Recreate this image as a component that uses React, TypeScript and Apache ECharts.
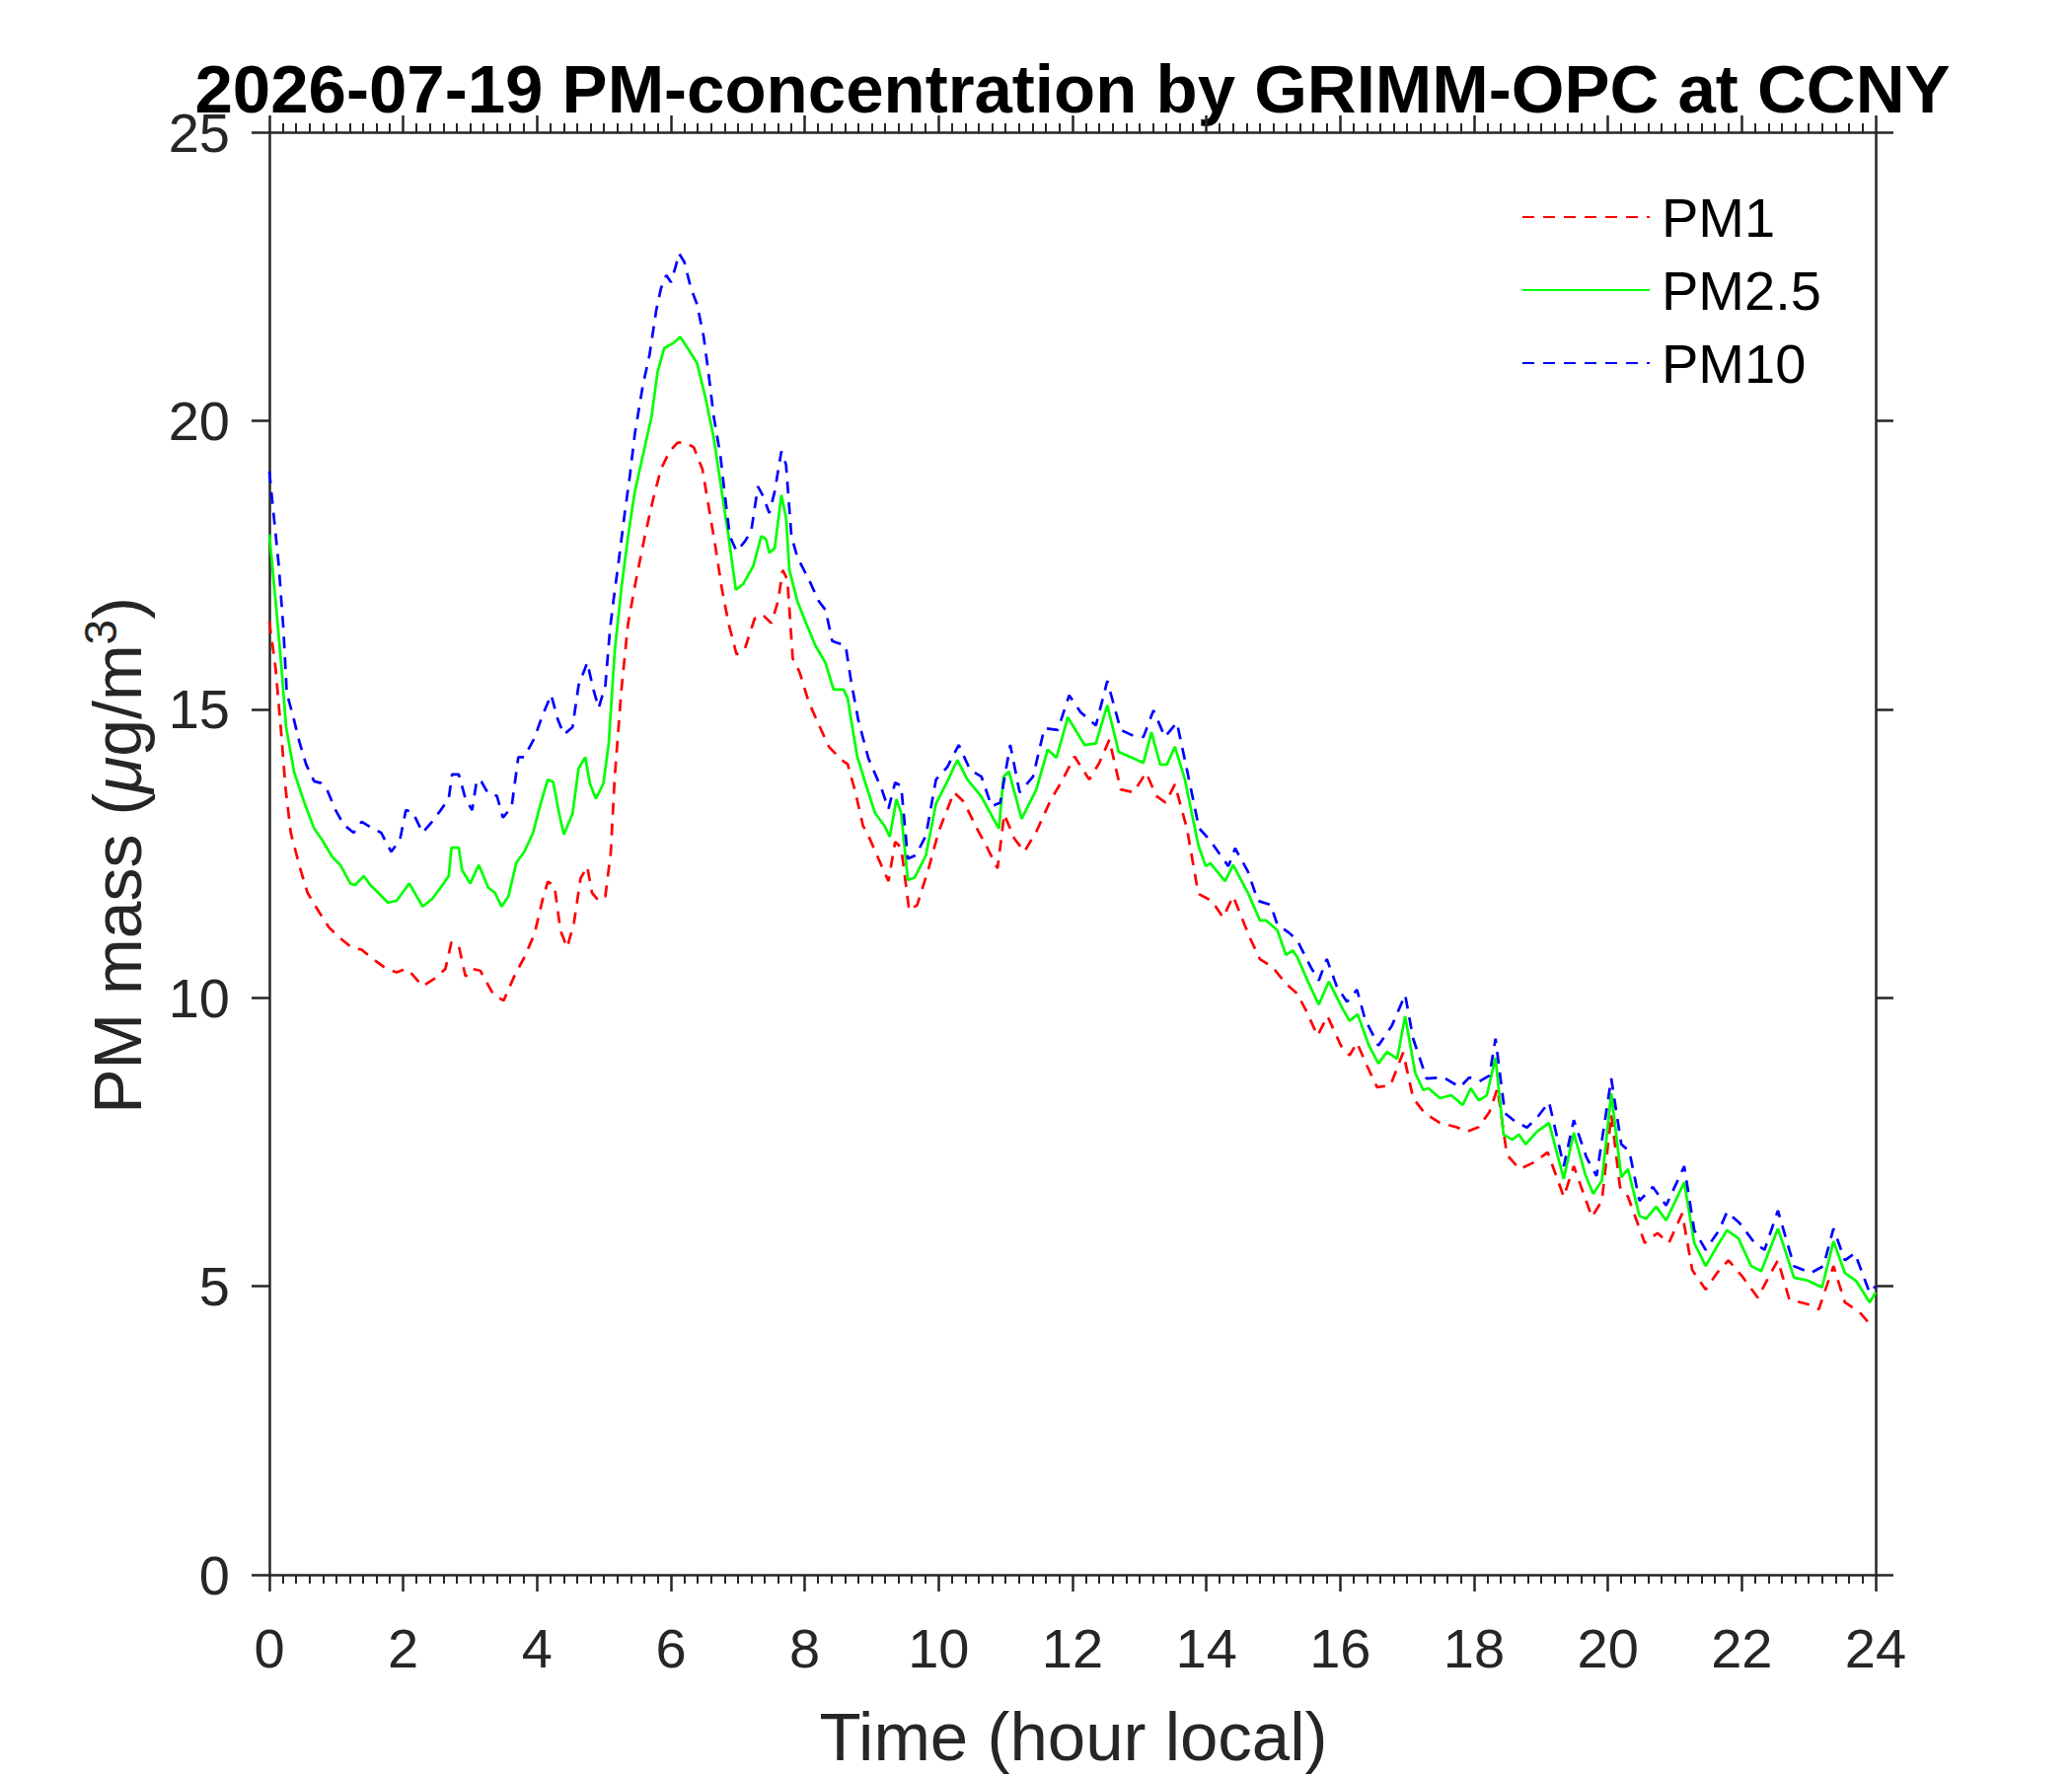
import React, { useEffect, useRef } from "react";
import * as echarts from "echarts";

const titleText = "2026-07-19 PM-concentration by GRIMM-OPC at CCNY";
const xAxisName = "Time (hour local)";
const seriesNames = ["PM1", "PM2.5", "PM10"];
const xTicks = [0, 2, 4, 6, 8, 10, 12, 14, 16, 18, 20, 22, 24];
const yTicks = [0, 5, 10, 15, 20, 25];

// [hour, µg/m³]
const pm25 = [
  [0, 18.03], [0.1, 16.79], [0.18, 15.74], [0.25, 14.69], [0.37, 13.91], [0.52, 13.39], [0.67, 12.93], [0.79, 12.73],
  [0.94, 12.44], [1.06, 12.3], [1.21, 11.98], [1.28, 11.95], [1.41, 12.11], [1.51, 11.95], [1.6, 11.85], [1.77, 11.65],
  [1.9, 11.68], [1.99, 11.82], [2.09, 11.98], [2.17, 11.82], [2.29, 11.58], [2.43, 11.71], [2.58, 11.94], [2.68, 12.11],
  [2.72, 12.6], [2.83, 12.6], [2.88, 12.21], [3.0, 11.98], [3.13, 12.3], [3.27, 11.91], [3.37, 11.82], [3.47, 11.58],
  [3.57, 11.75], [3.69, 12.34], [3.81, 12.53], [3.94, 12.86], [4.06, 13.39], [4.16, 13.78], [4.24, 13.74], [4.33, 13.19],
  [4.4, 12.83], [4.53, 13.19], [4.62, 13.97], [4.72, 14.17], [4.79, 13.71], [4.88, 13.45], [4.99, 13.71], [5.07, 14.4],
  [5.16, 16.0], [5.26, 17.1], [5.36, 18.0], [5.46, 18.77], [5.58, 19.39], [5.71, 20.07], [5.8, 20.84], [5.9, 21.26],
  [6.03, 21.34], [6.14, 21.45], [6.27, 21.22], [6.39, 21.0], [6.52, 20.38], [6.64, 19.7], [6.76, 18.77], [6.86, 18.0],
  [6.97, 17.07], [7.08, 17.17], [7.23, 17.48], [7.35, 18.0], [7.42, 17.95], [7.47, 17.71], [7.55, 17.79], [7.65, 18.71],
  [7.72, 18.32], [7.77, 17.41], [7.89, 16.87], [8.02, 16.49], [8.16, 16.1], [8.31, 15.8], [8.43, 15.34], [8.58, 15.34],
  [8.64, 15.19], [8.78, 14.2], [8.9, 13.74], [9.05, 13.2], [9.19, 12.98], [9.27, 12.79], [9.37, 13.44], [9.44, 13.2],
  [9.54, 12.04], [9.64, 12.08], [9.81, 12.47], [9.96, 13.36], [10.13, 13.75], [10.28, 14.12], [10.43, 13.78], [10.63, 13.5],
  [10.9, 12.93], [10.97, 13.83], [11.05, 13.92], [11.24, 13.1], [11.46, 13.61], [11.63, 14.3], [11.76, 14.16], [11.93, 14.86],
  [12.18, 14.38], [12.35, 14.41], [12.52, 15.07], [12.69, 14.26], [12.89, 14.16], [13.06, 14.07], [13.18, 14.6], [13.31, 14.04],
  [13.41, 14.04], [13.53, 14.35], [13.68, 13.78], [13.88, 12.64], [13.99, 12.28], [14.06, 12.33], [14.28, 12.02], [14.4, 12.3],
  [14.62, 11.82], [14.8, 11.34], [14.89, 11.34], [15.06, 11.17], [15.19, 10.74], [15.29, 10.82], [15.36, 10.7], [15.51, 10.3],
  [15.68, 9.88], [15.83, 10.28], [16.04, 9.8], [16.14, 9.6], [16.26, 9.71], [16.43, 9.17], [16.57, 8.86], [16.7, 9.06],
  [16.85, 8.94], [16.97, 9.68], [17.12, 8.7], [17.24, 8.4], [17.32, 8.43], [17.49, 8.26], [17.66, 8.31], [17.83, 8.14],
  [17.95, 8.43], [18.07, 8.22], [18.19, 8.31], [18.32, 8.96], [18.44, 7.63], [18.57, 7.54], [18.67, 7.63], [18.77, 7.46],
  [18.94, 7.68], [19.12, 7.83], [19.34, 6.86], [19.49, 7.66], [19.66, 6.94], [19.78, 6.6], [19.91, 6.83], [20.05, 8.34],
  [20.2, 6.89], [20.3, 7.03], [20.47, 6.22], [20.57, 6.17], [20.72, 6.38], [20.87, 6.14], [21.14, 6.8], [21.29, 5.75],
  [21.46, 5.35], [21.63, 5.69], [21.78, 5.97], [21.95, 5.83], [22.14, 5.35], [22.29, 5.26], [22.54, 6.0], [22.78, 5.15],
  [22.98, 5.1], [23.2, 4.98], [23.37, 5.78], [23.54, 5.23], [23.71, 5.09], [23.91, 4.72], [24.0, 4.89],
];

const pm10 = [
  [0, 19.12], [0.06, 18.42], [0.14, 17.5], [0.21, 16.39], [0.26, 15.28], [0.35, 14.9], [0.45, 14.43], [0.55, 14.04],
  [0.67, 13.75], [0.77, 13.72], [0.87, 13.58], [0.99, 13.25], [1.11, 13.0], [1.26, 12.86], [1.38, 13.05], [1.55, 12.93],
  [1.67, 12.86], [1.82, 12.53], [1.95, 12.73], [2.04, 13.25], [2.14, 13.22], [2.29, 12.86], [2.43, 13.05], [2.56, 13.25],
  [2.68, 13.45], [2.73, 13.87], [2.83, 13.87], [2.93, 13.45], [3.03, 13.25], [3.1, 13.78], [3.17, 13.74], [3.27, 13.54],
  [3.4, 13.5], [3.49, 13.12], [3.62, 13.31], [3.72, 14.17], [3.81, 14.17], [3.96, 14.5], [4.08, 14.89], [4.21, 15.25],
  [4.31, 14.82], [4.4, 14.56], [4.53, 14.69], [4.62, 15.41], [4.75, 15.81], [4.84, 15.35], [4.92, 15.02], [5.02, 15.41],
  [5.09, 16.39], [5.14, 16.87], [5.21, 17.48], [5.31, 18.4], [5.39, 19.08], [5.46, 19.77], [5.58, 20.61], [5.68, 21.14],
  [5.78, 21.91], [5.85, 22.29], [5.93, 22.52], [6.0, 22.4], [6.07, 22.67], [6.12, 22.9], [6.2, 22.75], [6.3, 22.29],
  [6.39, 22.02], [6.49, 21.45], [6.56, 20.84], [6.64, 20.07], [6.74, 19.39], [6.8, 18.77], [6.88, 18.0], [6.98, 17.74],
  [7.1, 17.9], [7.2, 18.09], [7.3, 18.86], [7.37, 18.71], [7.47, 18.4], [7.55, 18.77], [7.65, 19.47], [7.72, 19.24],
  [7.8, 18.0], [7.89, 17.63], [8.06, 17.25], [8.21, 16.87], [8.31, 16.72], [8.41, 16.18], [8.61, 16.1], [8.69, 15.5],
  [8.8, 14.81], [8.95, 14.15], [9.15, 13.61], [9.25, 13.27], [9.35, 13.73], [9.44, 13.67], [9.54, 12.41], [9.66, 12.47],
  [9.81, 12.81], [9.96, 13.78], [10.13, 14.0], [10.3, 14.38], [10.47, 13.95], [10.64, 13.83], [10.79, 13.32], [10.92, 13.38],
  [11.07, 14.38], [11.21, 13.56], [11.41, 13.83], [11.58, 14.67], [11.78, 14.64], [11.95, 15.24], [12.12, 14.95], [12.35, 14.72],
  [12.52, 15.49], [12.72, 14.64], [12.89, 14.55], [13.06, 14.52], [13.21, 14.98], [13.38, 14.52], [13.56, 14.77], [13.71, 13.95],
  [13.89, 12.94], [14.06, 12.72], [14.21, 12.47], [14.33, 12.28], [14.43, 12.59], [14.62, 12.19], [14.77, 11.68], [14.96, 11.61],
  [15.06, 11.27], [15.23, 11.13], [15.36, 10.99], [15.56, 10.53], [15.68, 10.3], [15.8, 10.67], [15.95, 10.19], [16.1, 9.93],
  [16.25, 10.14], [16.37, 9.63], [16.57, 9.17], [16.77, 9.51], [16.97, 10.05], [17.09, 9.29], [17.29, 8.6], [17.54, 8.62],
  [17.79, 8.45], [17.93, 8.62], [18.08, 8.55], [18.23, 8.65], [18.32, 9.29], [18.46, 8.0], [18.62, 7.85], [18.79, 7.75],
  [18.94, 7.92], [19.12, 8.19], [19.34, 7.08], [19.49, 7.88], [19.68, 7.23], [19.83, 6.91], [20.05, 8.6], [20.2, 7.46],
  [20.32, 7.34], [20.47, 6.48], [20.67, 6.72], [20.87, 6.4], [21.14, 7.08], [21.29, 5.97], [21.46, 5.63], [21.66, 5.97],
  [21.78, 6.29], [21.97, 6.09], [22.19, 5.75], [22.34, 5.63], [22.54, 6.31], [22.78, 5.35], [23.03, 5.23], [23.22, 5.35],
  [23.37, 6.0], [23.54, 5.45], [23.69, 5.57], [23.91, 4.89], [24.0, 5.0],
];

const pm1 = [
  [0, 16.52], [0.09, 15.74], [0.17, 14.69], [0.24, 13.65], [0.32, 12.86], [0.45, 12.28], [0.57, 11.82], [0.74, 11.49],
  [0.89, 11.22], [1.06, 11.03], [1.23, 10.87], [1.38, 10.83], [1.55, 10.67], [1.75, 10.5], [1.9, 10.44], [2.04, 10.5],
  [2.14, 10.4], [2.29, 10.2], [2.48, 10.34], [2.63, 10.5], [2.72, 10.96], [2.83, 10.9], [2.93, 10.37], [3.03, 10.5],
  [3.15, 10.47], [3.35, 10.05], [3.5, 9.95], [3.67, 10.4], [3.81, 10.7], [3.96, 11.1], [4.08, 11.69], [4.16, 12.01],
  [4.26, 11.94], [4.35, 11.16], [4.45, 10.87], [4.55, 11.29], [4.65, 12.07], [4.75, 12.27], [4.82, 11.82], [4.92, 11.68],
  [5.02, 11.76], [5.1, 12.5], [5.16, 13.82], [5.26, 15.34], [5.36, 16.49], [5.48, 17.25], [5.61, 18.0], [5.73, 18.62],
  [5.85, 19.16], [5.98, 19.47], [6.1, 19.62], [6.22, 19.62], [6.34, 19.54], [6.47, 19.16], [6.57, 18.47], [6.67, 17.78],
  [6.76, 17.1], [6.86, 16.49], [6.98, 15.95], [7.1, 16.03], [7.25, 16.57], [7.37, 16.64], [7.5, 16.49], [7.6, 16.87],
  [7.67, 17.41], [7.74, 17.25], [7.82, 15.88], [7.92, 15.65], [8.06, 15.12], [8.21, 14.73], [8.36, 14.35], [8.55, 14.12],
  [8.64, 14.05], [8.75, 13.59], [8.87, 12.98], [8.95, 12.81], [9.1, 12.41], [9.25, 12.02], [9.35, 12.7], [9.44, 12.6],
  [9.56, 11.51], [9.68, 11.61], [9.85, 12.24], [10.0, 12.88], [10.23, 13.56], [10.38, 13.39], [10.55, 12.98], [10.73, 12.59],
  [10.88, 12.24], [10.98, 13.18], [11.13, 12.76], [11.28, 12.53], [11.46, 12.88], [11.68, 13.44], [11.83, 13.73], [12.03, 14.18],
  [12.25, 13.78], [12.4, 14.07], [12.55, 14.47], [12.72, 13.61], [12.91, 13.56], [13.1, 13.9], [13.25, 13.5], [13.39, 13.38],
  [13.53, 13.7], [13.71, 12.93], [13.88, 11.8], [14.08, 11.68], [14.25, 11.39], [14.4, 11.76], [14.57, 11.27], [14.67, 10.99],
  [14.8, 10.67], [14.99, 10.53], [15.19, 10.24], [15.36, 10.07], [15.51, 9.73], [15.66, 9.34], [15.81, 9.68], [16.01, 9.17],
  [16.14, 9.0], [16.25, 9.22], [16.4, 8.82], [16.55, 8.45], [16.75, 8.48], [16.94, 9.05], [17.09, 8.26], [17.26, 8.0],
  [17.49, 7.83], [17.73, 7.76], [17.9, 7.68], [18.07, 7.76], [18.23, 8.02], [18.35, 8.43], [18.49, 7.28], [18.68, 7.03],
  [18.9, 7.15], [19.1, 7.32], [19.34, 6.55], [19.49, 7.08], [19.76, 6.2], [19.91, 6.48], [20.05, 7.98], [20.18, 6.72],
  [20.3, 6.55], [20.55, 5.75], [20.74, 5.92], [20.91, 5.75], [21.11, 6.26], [21.26, 5.28], [21.46, 4.94], [21.63, 5.23],
  [21.8, 5.45], [22.0, 5.18], [22.24, 4.8], [22.41, 5.18], [22.54, 5.45], [22.71, 4.77], [22.98, 4.69], [23.15, 4.6],
  [23.37, 5.35], [23.54, 4.72], [23.76, 4.55], [23.91, 4.35], [24.0, 4.38],
];

const AX = "#262626";
const FONT = "Liberation Sans";

export default function App() {
  const ref = useRef<HTMLDivElement>(null);
  useEffect(() => {
    const chart = echarts.init(ref.current!, null, { renderer: "svg" });
    const xBase = (pos: "bottom" | "top", labels: boolean) => ({
      type: "value",
      min: xTicks[0],
      max: xTicks[xTicks.length - 1],
      interval: xTicks[1] - xTicks[0],
      position: pos,
      axisLine: { show: true, onZero: false, lineStyle: { color: AX, width: 2.5 } },
      axisTick: { show: true, inside: false, length: 17, lineStyle: { color: AX, width: 2.5 } },
      minorTick: { show: true, splitNumber: 10, length: 9, lineStyle: { color: AX, width: 2 } },
      axisLabel: { show: labels, margin: 46, fontSize: 56, color: AX, fontFamily: FONT },
      splitLine: { show: false },
      minorSplitLine: { show: false },
    });
    const yBase = (pos: "left" | "right", labels: boolean) => ({
      type: "value",
      min: yTicks[0],
      max: yTicks[yTicks.length - 1],
      interval: yTicks[1] - yTicks[0],
      position: pos,
      axisLine: { show: true, onZero: false, lineStyle: { color: AX, width: 2.5 } },
      axisTick: { show: true, inside: false, length: 18, lineStyle: { color: AX, width: 2.5 } },
      axisLabel: { show: labels, margin: 40, fontSize: 56, color: AX, fontFamily: FONT },
      splitLine: { show: false },
    });
    const lineSeries = (name: string, data: number[][], color: string, dashed: boolean) => ({
      name,
      type: "line",
      data,
      showSymbol: false,
      symbol: "none",
      xAxisIndex: 0,
      yAxisIndex: 0,
      lineStyle: { color, width: 2.7, type: dashed ? [12, 9] : "solid" },
      itemStyle: { color },
      emphasis: { disabled: true },
    });
    chart.setOption({
      animation: false,
      backgroundColor: "#ffffff",
      grid: { left: 273, top: 134, width: 1628, height: 1462, containLabel: false },
      xAxis: [xBase("bottom", true), xBase("top", false)],
      yAxis: [yBase("left", true), yBase("right", false)],
      legend: {
        orient: "vertical",
        left: 1542,
        top: 190,
        padding: 0,
        itemWidth: 129,
        itemHeight: 20,
        itemGap: 14,
        itemStyle: { opacity: 0 },
        data: seriesNames,
        textStyle: { fontSize: 56, color: "#000", fontFamily: FONT, lineHeight: 60, padding: [0, 0, 0, 7] },
      },
      series: [
        lineSeries(seriesNames[0], pm1, "#ff0000", true),
        lineSeries(seriesNames[1], pm25, "#00ff00", false),
        lineSeries(seriesNames[2], pm10, "#0000ff", true),
      ],
      graphic: [
        {
          type: "text",
          x: 1087,
          y: 90,
          style: {
            text: titleText,
            fill: "#000",
            font: `bold 69px "${FONT}"`,
            textAlign: "center",
            textVerticalAlign: "middle",
          },
        },
        {
          type: "text",
          x: 1088,
          y: 1760,
          style: {
            text: xAxisName,
            fill: AX,
            font: `69px "${FONT}"`,
            textAlign: "center",
            textVerticalAlign: "middle",
          },
        },
        {
          type: "text",
          x: 119,
          y: 867,
          rotation: Math.PI / 2,
          style: {
            text: "{a|PM mass (}{mu|μ}{a|g/m}{sup|3}{a|)}",
            fill: AX,
            textAlign: "center",
            textVerticalAlign: "middle",
            rich: {
              a: { fontSize: 68, fontFamily: FONT, fill: AX, lineHeight: 80 },
              mu: { fontSize: 68, fontFamily: FONT, fontStyle: "italic", fill: AX, lineHeight: 80 },
              sup: { fontSize: 46, fontFamily: FONT, fill: AX, verticalAlign: "top", lineHeight: 46 },
            },
          },
        },
      ],
    });
    return () => chart.dispose();
  }, []);
  return (
    <div
      ref={ref}
      style={{ position: "absolute", left: 0, top: 0, width: 2100, height: 1800, background: "#fff" }}
    />
  );
}
